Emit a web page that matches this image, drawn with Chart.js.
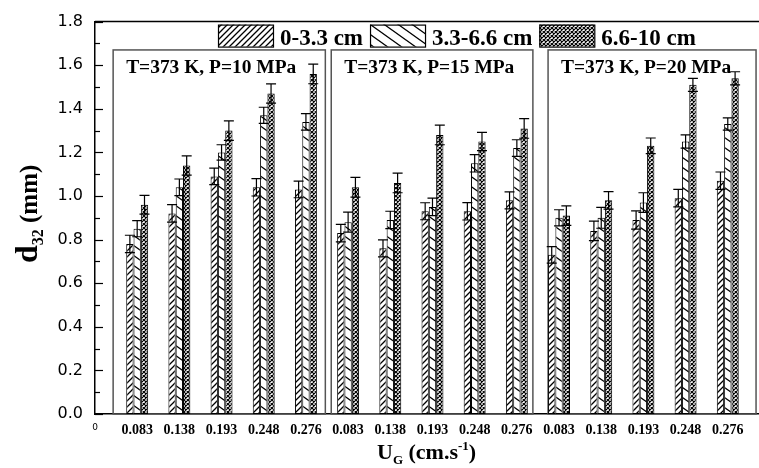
<!DOCTYPE html>
<html><head><meta charset="utf-8">
<script src="https://cdn.jsdelivr.net/npm/chart.js@4"></script>
<style>html,body{margin:0;padding:0;background:#fff}canvas{display:block}</style>
</head><body>
<canvas id="c" width="759" height="468"></canvas>
<script>
// ---- data ----
const ugLabels = ['0.083','0.138','0.193','0.248','0.276'];
const panelTitles = ['T=373 K, P=10 MPa','T=373 K, P=15 MPa','T=373 K, P=20 MPa'];
const seriesLabels = ['0-3.3 cm','3.3-6.6 cm','6.6-10 cm'];
const groupIndex = [1,2,3,4,5,6,7,8,9,10,11,12,13,14,15];
const d32_0_33   = [0.78,0.92,1.09,1.04,1.03, 0.83,0.76,0.93,0.93,0.98, 0.73,0.84,0.89,0.99,1.07];
const d32_33_66  = [0.85,1.04,1.20,1.37,1.34, 0.88,0.89,0.95,1.15,1.22, 0.90,0.90,0.97,1.25,1.33];
const d32_66_10  = [0.96,1.14,1.30,1.47,1.56, 1.04,1.06,1.28,1.25,1.31, 0.91,0.98,1.23,1.51,1.54];
const err_0_33   = [0.040,0.040,0.038,0.040,0.038, 0.040,0.039,0.039,0.040,0.039, 0.038,0.045,0.042,0.040,0.040];
const err_33_66  = [0.037,0.038,0.035,0.037,0.038, 0.046,0.040,0.040,0.040,0.038, 0.037,0.048,0.045,0.030,0.028];
const err_66_10  = [0.043,0.044,0.045,0.044,0.045, 0.045,0.045,0.045,0.042,0.045, 0.045,0.040,0.036,0.030,0.030];
const yTicks = [0,0.2,0.4,0.6,0.8,1.0,1.2,1.4,1.6,1.8];

// ---- layout / style constants ----
const panelEdges = [[0.43,5.46],[5.60,10.38],[10.74,15.67]];
const panelTop = 1.67;
const serif = '"Liberation Serif","Times New Roman",serif';

const canvas = document.getElementById('c');
const mainCtx = canvas.getContext('2d');
function makePattern(kind){
  const c = document.createElement('canvas');
  let w,h;
  if(kind===0){w=6;h=6;} else if(kind===1){w=14;h=10;} else {w=4;h=4;}
  c.width=w;c.height=h;
  const g=c.getContext('2d');
  g.fillStyle='#fff';g.fillRect(0,0,w,h);
  g.strokeStyle='#000';g.lineWidth=kind===2?1.2:1.3;
  g.beginPath();
  const seg=(x1,y1,x2,y2)=>{for(const dx of [-w,0,w])for(const dy of [-h,0,h]){g.moveTo(x1+dx,y1+dy);g.lineTo(x2+dx,y2+dy);}};
  if(kind===0) seg(0,h,w,0);
  else if(kind===1) seg(0,0,w,h);
  else {seg(0,0,w,h);seg(0,h,w,0);}
  g.stroke();
  return mainCtx.createPattern(c,'repeat');
}
const patterns=[makePattern(0),makePattern(1),makePattern(2)];
const values=[d32_0_33,d32_33_66,d32_66_10];
const errors=[err_0_33,err_33_66,err_66_10];

const datasets = values.map((arr,k)=>({
  label: seriesLabels[k],
  data: arr.map((v,i)=>({x:groupIndex[i], y:v})),
  errs: errors[k],
  backgroundColor: patterns[k],
  borderColor:'#000',
  borderWidth:1,
  borderSkipped:false,
  barPercentage:1.0,
  categoryPercentage:0.52
}));

function stretchText(ctx,text,x,y,sx,align){
  ctx.save();
  ctx.translate(x,y);ctx.scale(sx,1);
  ctx.textAlign=align||'left';
  ctx.fillText(text,0,0);
  ctx.restore();
}

const decor = {
  id:'decor',
  beforeDatasetsDraw(chart){
    const {ctx, scales:{x,y}} = chart;
    ctx.save();
    ctx.strokeStyle='#555';ctx.lineWidth=1.5;
    panelEdges.forEach(([l,r])=>{
      const x1=x.getPixelForValue(l), x2=x.getPixelForValue(r);
      const y1=y.getPixelForValue(panelTop), y2=y.getPixelForValue(0);
      ctx.strokeRect(x1,y1,x2-x1,y2-y1);
    });
    ctx.fillStyle='#000';
    ctx.font='bold 18px '+serif;
    ctx.textBaseline='alphabetic';
    panelEdges.forEach(([l,r],i)=>{
      stretchText(ctx,panelTitles[i],x.getPixelForValue(l)+13,y.getPixelForValue(panelTop)+23,1.08);
    });
    ctx.restore();
  },
  afterDatasetsDraw(chart){
    const {ctx, chartArea:a, scales:{x,y}} = chart;
    ctx.save();
    // error bars
    ctx.strokeStyle='#000';ctx.lineWidth=1.2;
    chart.data.datasets.forEach((ds,k)=>{
      const meta=chart.getDatasetMeta(k);
      meta.data.forEach((el,i)=>{
        const v=ds.data[i].y, e=ds.errs[i];
        const yt=y.getPixelForValue(v+e), yb=y.getPixelForValue(v-e);
        const cx=el.x;
        ctx.beginPath();
        ctx.moveTo(cx,yt);ctx.lineTo(cx,yb);
        ctx.moveTo(cx-5,yt);ctx.lineTo(cx+5,yt);
        ctx.moveTo(cx-5,yb);ctx.lineTo(cx+5,yb);
        ctx.stroke();
      });
    });
    // top frame line
    ctx.lineWidth=1.5;
    ctx.beginPath();ctx.moveTo(a.left,a.top);ctx.lineTo(a.right,a.top);ctx.stroke();
    // inward y ticks
    ctx.lineWidth=1.2;
    for(let j=0;j<=18;j++){
      const py=Math.round(y.getPixelForValue(j/10))+0.5;
      const len=(j%2===0)?8:5;
      ctx.beginPath();ctx.moveTo(a.left,py);ctx.lineTo(a.left+len,py);ctx.stroke();
    }
    // legend
    let lx=a.left+123;
    const ly=a.top+3;
    ctx.font='bold 23px '+serif;
    ctx.textBaseline='alphabetic';
    ctx.fillStyle='#000';
    chart.data.datasets.forEach((ds,k)=>{
      ctx.fillStyle=ds.backgroundColor;
      ctx.fillRect(lx,ly,55,22);
      ctx.strokeStyle='#000';ctx.lineWidth=1.2;
      ctx.strokeRect(lx+0.5,ly+0.5,55,22);
      ctx.fillStyle='#000';
      ctx.fillText(ds.label,lx+62,ly+20);
      lx+=62+ctx.measureText(ds.label).width+7;
    });
    // y title
    ctx.save();
    ctx.translate(37,263);ctx.rotate(-Math.PI/2);
    ctx.textAlign='left';ctx.textBaseline='alphabetic';
    ctx.font='bold 32px '+serif;
    let tx=0;
    ctx.fillText('d',tx,0);tx+=ctx.measureText('d').width;
    ctx.font='bold 16px '+serif;
    ctx.fillText('32',tx,6);tx+=ctx.measureText('32').width;
    ctx.font='bold 25px '+serif;
    ctx.fillText(' (mm)',tx,0);
    ctx.restore();
    // x title
    ctx.save();
    ctx.translate(377,459);
    ctx.textAlign='left';ctx.textBaseline='alphabetic';
    tx=0;
    ctx.font='bold 22px '+serif;
    ctx.fillText('U',tx,0);tx+=ctx.measureText('U').width;
    ctx.font='bold 13px '+serif;
    ctx.fillText('G',tx,5);tx+=ctx.measureText('G').width;
    ctx.font='bold 22px '+serif;
    ctx.fillText(' (cm.s',tx,0);tx+=ctx.measureText(' (cm.s').width;
    ctx.font='bold 13px '+serif;
    ctx.fillText('-1',tx,-9);tx+=ctx.measureText('-1').width;
    ctx.font='bold 22px '+serif;
    ctx.fillText(')',tx,0);
    ctx.restore();
    ctx.restore();
  }
};

new Chart(canvas,{
  type:'bar',
  data:{datasets},
  options:{
    responsive:false,
    animation:false,
    devicePixelRatio:1,
    layout:{padding:{left:0,right:0,top:14,bottom:0}},
    plugins:{legend:{display:false},tooltip:{enabled:false},title:{display:false}},
    scales:{
      x:{
        type:'linear',min:0,max:15.74,offset:false,
        grid:{display:false,drawTicks:false},
        border:{display:true,color:'#000',width:1.5},
        afterBuildTicks:(s)=>{s.ticks=[0].concat(groupIndex).map(v=>({value:v}));},
        afterFit:(s)=>{s.height=54;},
        ticks:{
          autoSkip:false,maxRotation:0,padding:8,color:'#000',
          callback:(v)=> v===0 ? '0' : ugLabels[(v-1)%5],
          font:(c)=> (c.tick && c.tick.value===0) ? {family:'"DejaVu Sans",sans-serif',size:9} : {family:serif,size:14,weight:'bold'}
        }
      },
      y:{
        min:0,max:1.8,
        grid:{display:false,drawTicks:false},
        border:{display:true,color:'#000',width:1.5},
        afterBuildTicks:(s)=>{s.ticks=yTicks.map(v=>({value:v}));},
        afterFit:(s)=>{s.width=95;},
        ticks:{
          padding:12,color:'#000',
          callback:(v)=>Number(v).toFixed(1),
          font:{family:'"DejaVu Sans",sans-serif',size:16}
        }
      }
    }
  },
  plugins:[decor]
});
</script>
</body></html>
